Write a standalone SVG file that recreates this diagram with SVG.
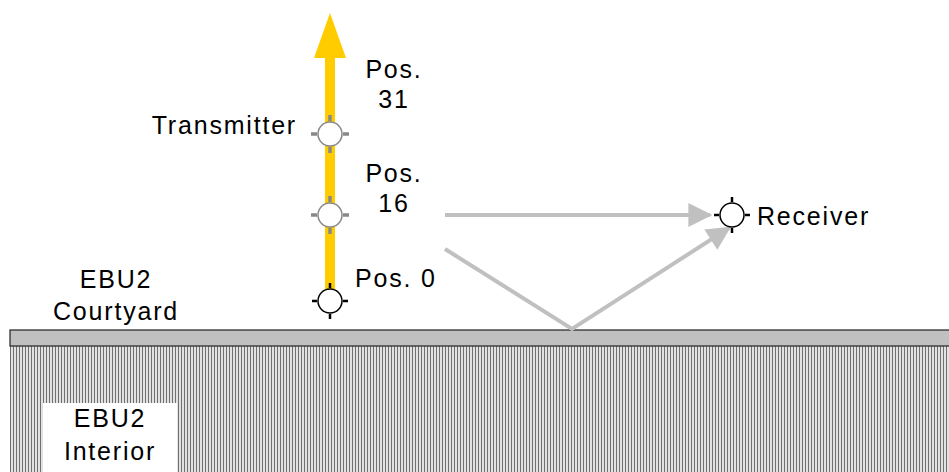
<svg xmlns="http://www.w3.org/2000/svg" width="949" height="472" viewBox="0 0 949 472">
  <defs>
    <pattern id="hatch" width="3" height="10" patternUnits="userSpaceOnUse">
      <rect width="3" height="10" fill="#e2e2e2"/>
      <rect x="1" width="1" height="10" fill="#707070"/>
    </pattern>
    <marker id="grayHead" viewBox="0 0 10 10" refX="9" refY="5" markerWidth="8" markerHeight="6" markerUnits="strokeWidth" orient="auto">
      <path d="M0,0 L10,5 L0,10 Z" fill="#c0c0c0"/>
    </marker>
    <!-- sensor symbol: circle with four ticks -->
    <g id="sensorGray">
      <circle r="12" fill="#fff" stroke="#888" stroke-width="1.5"/>
      <path d="M0,-13 V-19 M0,13 V19 M-13,0 H-19 M13,0 H19" stroke="#888" stroke-width="3.5"/>
    </g>
    <g id="sensorBlack">
      <circle r="12" fill="#fff" stroke="#000" stroke-width="1.5"/>
      <path d="M0,-13 V-18 M0,13 V18 M-13,0 H-18 M13,0 H18" stroke="#000" stroke-width="2.5"/>
    </g>
  </defs>
  <style>
    text { font-family: "Liberation Sans", Arial, sans-serif; font-size: 25px; fill: #000; letter-spacing: 1.8px; }
    .mid { text-anchor: middle; }
    .end { text-anchor: end; }
    .ray { stroke: #c0c0c0; stroke-width: 4; fill: none; }
  </style>

  <rect width="949" height="472" fill="#fff"/>

  <!-- ground: solid band over hatched interior -->
  <g id="ground">
    <rect x="10" y="346" width="940" height="130" fill="url(#hatch)"/>
    <rect x="10" y="330" width="940" height="16" fill="#c0c0c0" stroke="#222" stroke-width="1.2"/>
  </g>

  <g id="interior">
    <rect x="43" y="403" width="134" height="69" fill="#fff"/>
    <text class="mid" x="110" y="427">EBU2</text>
    <text class="mid" x="110" y="460">Interior</text>
  </g>

  <g id="courtyard">
    <text class="mid" x="116" y="288">EBU2</text>
    <text class="mid" x="116" y="320">Courtyard</text>
  </g>

  <!-- transmitter mast -->
  <g id="mast">
    <rect x="325" y="56" width="10" height="246" fill="#ffcc00"/>
    <path d="M330,13 L346,58 L314,58 Z" fill="#ffcc00"/>
  </g>

  <g id="connectors">
    <line class="ray" x1="445" y1="215" x2="710" y2="215" marker-end="url(#grayHead)"/>
    <polyline class="ray" points="445,249 572,329 729,228" marker-end="url(#grayHead)"/>
  </g>

  <g id="pos31">
    <use href="#sensorGray" x="330" y="134"/>
    <text class="end" x="297" y="134">Transmitter</text>
    <text class="mid" x="394" y="78">Pos.</text>
    <text class="mid" x="394" y="108">31</text>
  </g>

  <g id="pos16">
    <use href="#sensorGray" x="330" y="215"/>
    <text class="mid" x="394" y="182">Pos.</text>
    <text class="mid" x="394" y="212">16</text>
  </g>

  <g id="pos0">
    <use href="#sensorBlack" x="330" y="301"/>
    <text x="355" y="287">Pos. 0</text>
  </g>

  <g id="receiver">
    <use href="#sensorBlack" x="732" y="215"/>
    <text x="757" y="225">Receiver</text>
  </g>
</svg>
